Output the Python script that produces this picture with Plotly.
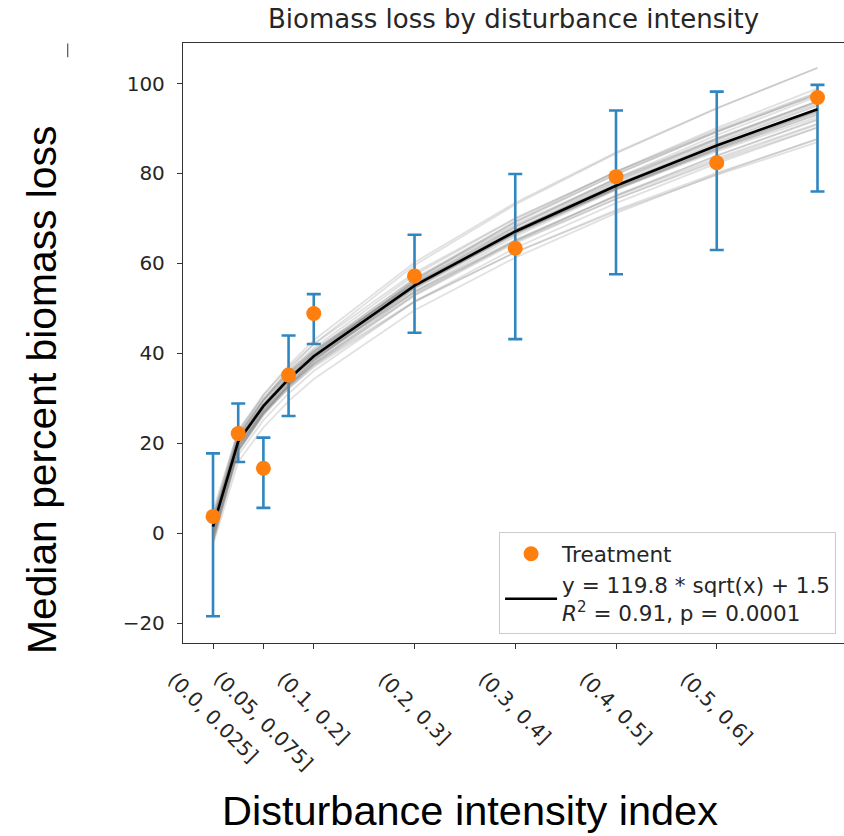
import plotly.graph_objects as go

# ---- data ----
x_pos = [0.0, 0.025, 0.05, 0.075, 0.1, 0.2, 0.3, 0.4, 0.5, 0.6]
median_loss = [3.8, 22.2, 14.5, 35.2, 48.9, 57.2, 63.4, 79.3, 82.4, 96.9]
upper_loss = [17.8, 28.9, 21.3, 44.0, 53.2, 66.4, 79.9, 94.0, 98.2, 99.7]
lower_loss = [-18.4, 15.9, 5.7, 26.1, 42.1, 44.6, 43.2, 57.6, 63.0, 76.0]

tick_vals = [0.0, 0.05, 0.1, 0.2, 0.3, 0.4, 0.5]
tick_labels = ["(0.0, 0.025]", "(0.05, 0.075]", "(0.1, 0.2]", "(0.2, 0.3]",
               "(0.3, 0.4]", "(0.4, 0.5]", "(0.5, 0.6]"]

# fitted model y = a*sqrt(x) + b
fit_a = 119.8
fit_b = 1.5
# bootstrap fit coefficients (grey curves)
boot_a = [112, 114, 115, 116, 117, 117.5, 118, 118.5, 119, 119.5, 120, 120.5,
          121, 121.5, 122, 122.5, 123, 124, 125, 126, 127, 128, 130, 134,
          108, 110.5, 113, 118, 121, 124, 132, 116.5]
boot_b = [3.5, 2.8, 4.0, 1.0, 2.5, 3.2, 0.5, 1.8, 2.2, -0.5, 1.0, 2.6,
          0.2, 1.5, -0.8, 1.2, 0.0, -1.0, 0.8, -1.5, -0.5, -2.0, -1.8, -0.3,
          3.3, 2.0, 5.0, -1.2, 3.8, 2.0, 1.2, -2.5]

err_plus = [u - m for u, m in zip(upper_loss, median_loss)]
err_minus = [m - l for m, l in zip(median_loss, lower_loss)]
sqrt_x = [v ** 0.5 for v in x_pos]

fig = go.Figure()

# error bars
fig.add_trace(go.Scatter(
    x=x_pos, y=median_loss, mode="markers",
    marker=dict(size=1, color="rgba(0,0,0,0)"),
    error_y=dict(type="data", symmetric=False, array=err_plus, arrayminus=err_minus,
                 color="#2f86c0", thickness=2.6, width=7),
    showlegend=False, hoverinfo="skip"))

# bootstrap curves
for a, b in zip(boot_a, boot_b):
    fig.add_trace(go.Scatter(
        x=x_pos, y=[a * s + b for s in sqrt_x], mode="lines",
        line=dict(color="rgba(128,128,128,0.24)", width=1.8),
        showlegend=False, hoverinfo="skip"))

# fitted curve
fig.add_trace(go.Scatter(
    x=x_pos, y=[fit_a * s + fit_b for s in sqrt_x], mode="lines",
    line=dict(color="black", width=2.6),
    name="y = 119.8 * sqrt(x) + 1.5<br><i>R</i><sup>2</sup> = 0.91, p = 0.0001",
    legendrank=2))

# treatment points
fig.add_trace(go.Scatter(
    x=x_pos, y=median_loss, mode="markers",
    marker=dict(size=15, color="#ff7f0e"),
    name="Treatment", legendrank=1))

tick_font = dict(family="DejaVu Sans", size=20, color="#262626")

annotations = []
for v, lab in zip(tick_vals, tick_labels):
    annotations.append(dict(x=v, xref="x", y=0, yref="paper", yshift=-21,
                            text=lab, textangle=45, showarrow=False,
                            xanchor="center", yanchor="top", font=tick_font))

W, H = 844, 836
L, R, T, B = 183, 0, 43, 193
pw, ph = W - L - R, H - T - B

def px_to_paper(xp, yp):
    return (xp - L) / pw, (H - B - yp) / ph

tx, ty = px_to_paper(42, 390)
annotations.append(dict(text="Median percent biomass loss", x=tx, xref="paper",
                        y=ty, yref="paper", showarrow=False, textangle=-90,
                        font=dict(family="Liberation Sans", size=40.8, color="black"),
                        xanchor="center", yanchor="middle"))
tx, ty = px_to_paper(470, 835)
annotations.append(dict(text="Disturbance intensity index", x=tx, y=ty,
                        xref="paper", yref="paper", showarrow=False, borderpad=0,
                        font=dict(family="Liberation Sans", size=41.5, color="black"),
                        xanchor="center", yanchor="bottom"))

sx0, sy0 = px_to_paper(67.7, 43.5)
sx1, sy1 = px_to_paper(67.7, 57.3)

fig.update_layout(
    width=W, height=H,
    margin=dict(l=L, r=R, t=T, b=B, autoexpand=False),
    plot_bgcolor="white", paper_bgcolor="white",
    title=dict(text="Biomass loss by disturbance intensity", x=0.5, xref="paper",
               xanchor="center", y=1 - 19 / H, yref="container", yanchor="middle",
               font=dict(family="DejaVu Sans", size=26, color="#262626")),
    xaxis=dict(range=[-0.0298, 0.6263], showgrid=False, zeroline=False,
               showline=True, linecolor="#333333", linewidth=1.3, mirror=True,
               ticks="outside", ticklen=5, tickwidth=1.3, tickcolor="#333333",
               tickvals=tick_vals, showticklabels=False),
    yaxis=dict(range=[-24.34, 109.0], showgrid=False, zeroline=False,
               showline=True, linecolor="#333333", linewidth=1.3, mirror=False,
               ticks="outside", ticklen=5, tickwidth=1.3, tickcolor="#333333",
               tick0=0, dtick=20, tickfont=tick_font, ticklabelstandoff=8),
    legend=dict(x=0.988, y=0.0145, xanchor="right", yanchor="bottom",
                bgcolor="rgba(255,255,255,0.85)", bordercolor="#cccccc", borderwidth=1,
                font=dict(family="DejaVu Sans", size=21.5, color="#262626"),
                itemwidth=52, tracegroupgap=6),
    annotations=annotations,
    shapes=[dict(type="line", xref="paper", yref="paper",
                 x0=sx0, x1=sx1, y0=sy0, y1=sy1,
                 line=dict(color="#555555", width=1.2))],
)

fig.write_html("out.html", config={"displayModeBar": False},
               post_script="document.body.style.margin='0';document.body.style.overflow='hidden';")
